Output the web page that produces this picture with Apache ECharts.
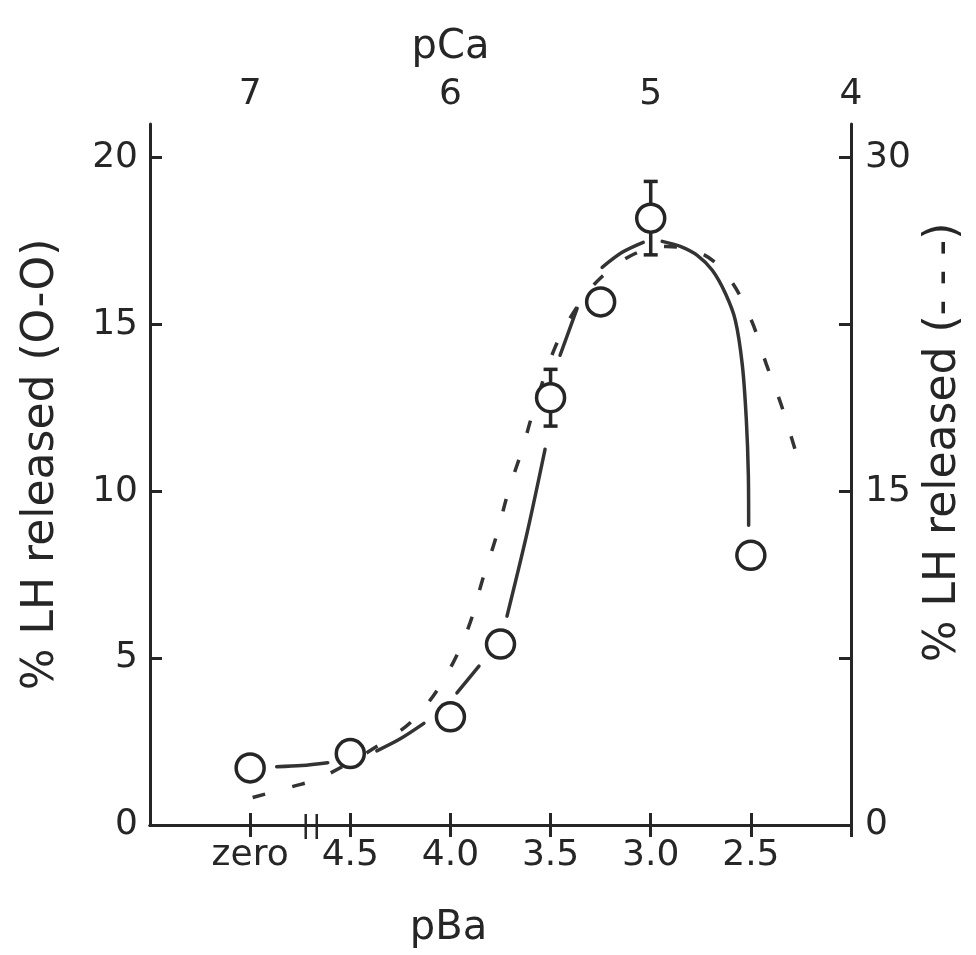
<!DOCTYPE html>
<html><head><meta charset="utf-8">
<script src="https://cdn.jsdelivr.net/npm/echarts@6/dist/echarts.min.js"></script>
<style>html,body{margin:0;padding:0;background:#fff}#c{width:976px;height:955px}</style>
</head><body><div id="c"></div>
<script>
// ---- data ----
const pBaPositions = [5.0, 4.5, 4.0, 3.75, 3.5, 3.25, 3.0, 2.5];   // 5.0 = "zero" Ba
const lhReleased   = [1.71, 2.14, 3.24, 5.42, 12.8, 15.67, 18.18, 8.08];
const lhError      = [0, 0, 0, 0, 0.85, 0, 1.1, 0];

const bottomTickValues = [5.0, 4.5, 4.0, 3.5, 3.0, 2.5];
const bottomTickLabels = ['zero', '4.5', '4.0', '3.5', '3.0', '2.5'];
const topTickValues    = [7.0, 6.5, 6.0, 5.5, 5.0, 4.5, 4.0];
const topLabelValues   = [7, 6, 5, 4];
const leftTickValues   = [0, 5, 10, 15, 20];
const rightTickValues  = [0, 7.5, 15, 22.5, 30];
const rightLabelValues = [0, 15, 30];
const axisBreakPositions = [4.7225, 4.6675];

// solid fitted curve (left axis units), drawn in pieces as in the original
const solidFitSegments = [
  [[4.8675, 1.746], [4.7425, 1.781], [4.6125, 1.865]],
  [[4.3675, 2.222], [4.2525, 2.575], [4.1325, 3.045]],
  [[3.9675, 3.961], [3.8575, 4.760]],
  [[3.7175, 6.257], [3.6175, 8.743], [3.5275, 11.257]],
  [[3.4525, 14.072], [3.3675, 15.479]],
  [[3.2425, 16.707], [3.1425, 17.156], [3.0375, 17.455]],
  [[2.9425, 17.485], [2.8525, 17.335], [2.7675, 17.066], [2.6925, 16.617], [2.6275, 15.928],
   [2.5775, 15.120], [2.5425, 13.772], [2.5225, 12.126], [2.5125, 10.479], [2.511, 8.982]]
];

// dashed curve (right axis units)
const dashedFitX = [4.9875, 4.7975, 4.6325, 4.2525, 4.1125, 3.9875, 3.9025, 3.8375, 3.7725, 3.7075,
  3.6425, 3.5875, 3.4775, 3.3625, 3.2425, 3.0775, 2.9225, 2.7375, 2.6075, 2.4975, 2.4225, 2.3475, 2.2675];
const dashedFitY = [1.235, 1.706, 2.178, 4.221, 5.478, 7.274, 9.071, 11.09, 12.93, 15.09,
  16.84, 18.55, 21.46, 23.35, 24.65, 25.68, 26.00, 25.64, 24.56, 22.68, 20.70, 18.86, 16.52];

// ---- chart ----
const INK = '#262626';
const FONT = 'DejaVu Sans';
const chart = echarts.init(document.getElementById('c'), null, {renderer: 'canvas'});

const axisLineStyle = {show: true, lineStyle: {color: INK, width: 3}};
const tickStyle = {lineStyle: {color: INK, width: 3}};
const labelStyle = {color: INK, fontFamily: FONT, fontSize: 36};
const nameStyle = {color: INK, fontFamily: FONT, fontSize: 40};
const titleStyle = {color: INK, fontFamily: FONT, fontSize: 44};

const series = [];
series.push({
  type: 'custom', name: 'errors', xAxisIndex: 0, yAxisIndex: 0, z: 2, clip: false,
  data: pBaPositions.map((x, i) => [x, lhReleased[i], lhError[i]]).filter(d => d[2] > 0),
  renderItem: function (params, api) {
    const x = api.value(0), y = api.value(1), e = api.value(2);
    const top = api.coord([x, y + e]);
    const bot = api.coord([x, y - e]);
    const w = 7;
    const st = {stroke: INK, lineWidth: 3.5};
    return {type: 'group', children: [
      {type: 'line', shape: {x1: top[0], y1: top[1], x2: bot[0], y2: bot[1]}, style: st},
      {type: 'line', shape: {x1: top[0] - w, y1: top[1], x2: top[0] + w, y2: top[1]}, style: st},
      {type: 'line', shape: {x1: bot[0] - w, y1: bot[1], x2: bot[0] + w, y2: bot[1]}, style: st}
    ]};
  }
});
solidFitSegments.forEach((seg, i) => {
  series.push({
    type: 'line', name: 'fit' + i, xAxisIndex: 0, yAxisIndex: 0, z: 3,
    data: seg, smooth: 0.3, symbol: 'none',
    lineStyle: {color: '#333', width: 3.5, cap: 'round'}
  });
});
series.push({
  type: 'line', name: 'dashed', xAxisIndex: 0, yAxisIndex: 1, z: 3,
  data: dashedFitX.map((x, i) => [x, dashedFitY[i]]), smooth: 0.35, symbol: 'none',
  lineStyle: {color: '#333', width: 3.5, type: [13, 28], cap: 'butt'}
});
series.push({
  type: 'scatter', name: 'points', xAxisIndex: 0, yAxisIndex: 0, z: 5,
  data: pBaPositions.map((x, i) => [x, lhReleased[i]]),
  symbol: 'circle', symbolSize: 28,
  itemStyle: {color: '#ffffff', borderColor: INK, borderWidth: 3.5, opacity: 1}
});
series.push({
  type: 'custom', name: 'axisBreak', xAxisIndex: 0, yAxisIndex: 0, z: 6, clip: false,
  data: axisBreakPositions.map(x => [x]),
  encode: {x: 0},
  renderItem: function (params, api) {
    const p = api.coord([api.value(0), 0]);
    return {type: 'line', shape: {x1: p[0], y1: p[1] - 11, x2: p[0], y2: p[1] + 14},
      style: {stroke: INK, lineWidth: 2.5}};
  }
});

chart.setOption({
  animation: false,
  backgroundColor: '#ffffff',
  grid: {left: 150, right: 125, top: 124, bottom: 130, containLabel: false},
  xAxis: [
    {
      type: 'value', position: 'bottom', min: 2, max: 5.5, inverse: true,
      name: 'pBa', nameLocation: 'middle', nameGap: 84,
      nameTextStyle: Object.assign({padding: [0, 104, 0, 0]}, nameStyle),
      axisLine: axisLineStyle, splitLine: {show: false},
      axisTick: Object.assign({show: true, inside: true, length: 12, customValues: bottomTickValues}, tickStyle),
      axisLabel: Object.assign({show: true, margin: 13, customValues: bottomTickValues,
        formatter: v => bottomTickLabels[bottomTickValues.indexOf(v)] ?? ''}, labelStyle)
    },
    {
      type: 'value', position: 'top', min: 4, max: 7.5, inverse: true,
      name: 'pCa', nameLocation: 'middle', nameGap: 56,
      nameTextStyle: Object.assign({padding: [0, 100, 0, 0]}, nameStyle),
      axisLine: axisLineStyle, splitLine: {show: false},
      axisTick: Object.assign({show: true, inside: true, length: 12, customValues: topTickValues}, tickStyle),
      axisLabel: Object.assign({show: true, margin: 11, customValues: topLabelValues,
        formatter: v => String(v)}, labelStyle)
    }
  ],
  yAxis: [
    {
      type: 'value', position: 'left', min: 0, max: 21,
      name: '% LH released (O-O)', nameLocation: 'middle', nameGap: 86, nameRotate: 90,
      nameTextStyle: Object.assign({padding: [0, 0, 0, 20]}, titleStyle),
      axisLine: axisLineStyle, splitLine: {show: false},
      axisTick: Object.assign({show: true, inside: true, length: 12, customValues: leftTickValues}, tickStyle),
      axisLabel: Object.assign({show: true, margin: 12, customValues: leftTickValues,
        formatter: v => String(v)}, labelStyle)
    },
    {
      type: 'value', position: 'right', min: 0, max: 31.5,
      name: '% LH released (- - -)', nameLocation: 'middle', nameGap: 70, nameRotate: 90,
      nameTextStyle: Object.assign({padding: [0, 0, 0, 64]}, titleStyle),
      axisLine: axisLineStyle, splitLine: {show: false},
      axisTick: Object.assign({show: true, inside: true, length: 12, customValues: rightTickValues}, tickStyle),
      axisLabel: Object.assign({show: true, margin: 14, customValues: rightLabelValues,
        formatter: v => String(v)}, labelStyle)
    }
  ],
  series: series
});
</script>
</body></html>
